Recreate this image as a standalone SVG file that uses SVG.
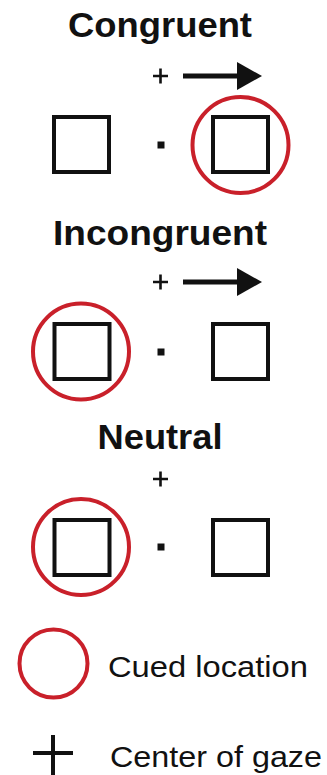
<svg xmlns="http://www.w3.org/2000/svg" width="327" height="775" viewBox="0 0 327 775">
  <style>
    .title { font-family: "Liberation Sans", Arial, sans-serif; font-weight: bold; font-size: 35px; fill: #111; text-anchor: middle; }
    .legend { font-family: "Liberation Sans", Arial, sans-serif; font-size: 29px; fill: #111; }
    .box { fill: none; stroke: #111; stroke-width: 4; }
    .dot { fill: #111; }
    .cue { fill: none; stroke: #c9202a; stroke-width: 4; }
    .fix { stroke: #111; stroke-width: 2.6; fill: none; }
    .arrowline { stroke: #111; stroke-width: 5; fill: none; }
    .arrowhead { fill: #111; }
  </style>
  <rect width="327" height="775" fill="#ffffff"/>

  <g id="congruent">
    <text class="title" x="160" y="37" textLength="184" lengthAdjust="spacingAndGlyphs">Congruent</text>
    <path class="fix" d="M153 76 H168 M160.5 68.5 V83.5"/>
    <line class="arrowline" x1="183" y1="76" x2="239" y2="76"/>
    <polygon class="arrowhead" points="237,62 262,76 237,90"/>
    <rect class="box" x="54" y="117" width="55" height="55"/>
    <rect class="dot" x="157.5" y="141.5" width="7" height="7"/>
    <rect class="box" x="213" y="117" width="55" height="55"/>
    <circle class="cue" cx="240.5" cy="145" r="48"/>
  </g>

  <g id="incongruent">
    <text class="title" x="160" y="245" textLength="214" lengthAdjust="spacingAndGlyphs">Incongruent</text>
    <path class="fix" d="M153 282 H168 M160.5 274.5 V289.5"/>
    <line class="arrowline" x1="183" y1="282" x2="239" y2="282"/>
    <polygon class="arrowhead" points="237,268 262,282 237,296"/>
    <rect class="box" x="54.5" y="324" width="55" height="55"/>
    <rect class="dot" x="157.5" y="348.5" width="7" height="7"/>
    <rect class="box" x="213" y="324" width="55" height="55"/>
    <circle class="cue" cx="81" cy="351.5" r="48"/>
  </g>

  <g id="neutral">
    <text class="title" x="160" y="449" textLength="125" lengthAdjust="spacingAndGlyphs">Neutral</text>
    <path class="fix" d="M153 479 H168 M160.5 471.5 V486.5"/>
    <rect class="box" x="54.5" y="520" width="55" height="55"/>
    <rect class="dot" x="157.5" y="543.5" width="7" height="7"/>
    <rect class="box" x="213" y="520" width="55" height="55"/>
    <circle class="cue" cx="81" cy="547" r="48"/>
  </g>

  <g id="legend-cued">
    <circle class="cue" cx="53.5" cy="663.5" r="34"/>
    <text class="legend" x="108" y="677" textLength="200" lengthAdjust="spacingAndGlyphs">Cued location</text>
  </g>

  <g id="legend-gaze">
    <path d="M33 753 H73 M53 735 V775" stroke="#111" stroke-width="4" fill="none"/>
    <text class="legend" x="110" y="767" textLength="212" lengthAdjust="spacingAndGlyphs">Center of gaze</text>
  </g>
</svg>
